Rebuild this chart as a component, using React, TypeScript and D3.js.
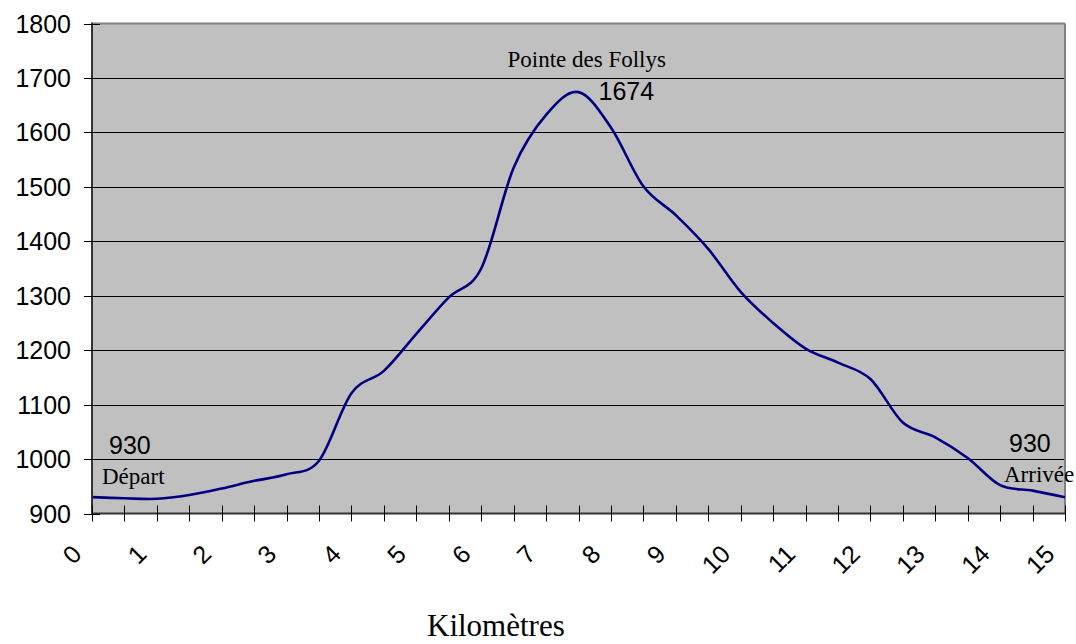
import React from "react";
import * as d3 from "d3";

// Distance (km) every 0.5 km and altitude (m) read from the profile
const distances = [
  0, 0.5, 1, 1.5, 2, 2.5, 3, 3.5, 4, 4.5, 5, 5.5, 6, 6.5, 7, 7.5, 8, 8.5, 9, 9.5,
  10, 10.5, 11, 11.5, 12, 12.5, 13, 13.5, 14, 14.5, 15,
];
const altitudes = [
  930, 928, 927, 934, 946, 960, 972, 997, 1121, 1162, 1230, 1297, 1350, 1535,
  1632, 1674, 1609, 1501, 1448, 1386, 1307, 1250, 1203, 1177, 1147, 1067, 1040,
  1002, 952, 942, 930,
];
const xTickValues = d3.range(0, 15.001, 0.5);
const xLabelValues = d3.range(0, 16, 1);
const yTickValues = [900, 1000, 1100, 1200, 1300, 1400, 1500, 1600, 1700, 1800];
const startLabel = { text: "Départ", value: "930" };
const endLabel = { text: "Arrivée", value: "930" };
const summitLabel = { text: "Pointe des Follys", value: "1674" };
const xTitle = "Kilomètres";

const W = 1076;
const H = 644;
const L = 92;
const R = 1065;
const T = 23.5;
const B = 513.5;
const SANS = "'Liberation Sans', Arial, sans-serif";
const SERIF = "'Liberation Serif', 'Times New Roman', serif";

export default function App() {
  const x = d3.scaleLinear().domain([0, 15]).range([L, R]);
  const y = d3.scaleLinear().domain([900, 1800]).range([B, T]);
  const pts: [number, number][] = distances.map((d, i) => [x(d), y(altitudes[i])]);
  const line = d3.line().curve(d3.curveCardinal.tension(0))(pts) || "";
  const py = (v: number) => Math.round(y(v)) + 0.5;
  const px = (v: number) => Math.round(x(v)) + 0.5;

  return (
    <svg
      width={W}
      height={H}
      style={{ position: "absolute", left: 0, top: 0, background: "#fff" }}
    >
      <rect x={L} y={T} width={R - L} height={B - T} fill="#C0C0C0" />
      {yTickValues
        .filter((v) => v > 900 && v < 1800)
        .map((v) => (
          <line key={"g" + v} x1={L} x2={R} y1={py(v)} y2={py(v)} stroke="#000" strokeWidth={1} />
        ))}
      {/* plot border (top/right) */}
      <line x1={L} x2={R} y1={T} y2={T} stroke="#808080" strokeWidth={2} />
      <line x1={R} x2={R} y1={T} y2={B} stroke="#808080" strokeWidth={2} />
      <path d={line} fill="none" stroke="#000080" strokeWidth={2.6} strokeLinejoin="round" />
      {/* axes */}
      <line x1={L} x2={L} y1={T - 1} y2={B + 1} stroke="#333" strokeWidth={2} />
      <line x1={L - 1} x2={R + 1} y1={B} y2={B} stroke="#333" strokeWidth={2} />
      {yTickValues.map((v) => (
        <g key={"y" + v}>
          <line x1={L - 8} x2={L + 8} y1={py(v)} y2={py(v)} stroke="#000" strokeWidth={1} />
          <text
            x={71}
            y={y(v)}
            dy="0.36em"
            textAnchor="end"
            fontFamily={SANS}
            fontSize={25}
            fill="#000"
          >
            {v}
          </text>
        </g>
      ))}
      {xTickValues.map((v) => (
        <line key={"xt" + v} x1={px(v)} x2={px(v)} y1={B - 8} y2={B + 8} stroke="#000" strokeWidth={1} />
      ))}
      {xLabelValues.map((v) => (
        <text
          key={"xl" + v}
          transform={`translate(${x(v) - 15},${B + 36}) rotate(-45)`}
          dy="0.35em"
          textAnchor="end"
          fontFamily={SANS}
          fontSize={25}
          fill="#000"
        >
          {v}
        </text>
      ))}
      {/* annotations */}
      <text x={x(0) + 17} y={454} fontFamily={SANS} fontSize={25}>{startLabel.value}</text>
      <text x={x(0) + 10} y={484} fontFamily={SERIF} fontSize={23}>{startLabel.text}</text>
      <text x={x(15) - 56} y={452} fontFamily={SANS} fontSize={25}>{endLabel.value}</text>
      <text x={x(15) - 61} y={482} fontFamily={SERIF} fontSize={23}>{endLabel.text}</text>
      <text x={x(7.5) - 71} y={67} fontFamily={SERIF} fontSize={23}>{summitLabel.text}</text>
      <text x={x(7.5) + 20} y={100} fontFamily={SANS} fontSize={25}>{summitLabel.value}</text>
      <text x={427} y={636} fontFamily={SERIF} fontSize={31}>{xTitle}</text>
    </svg>
  );
}
